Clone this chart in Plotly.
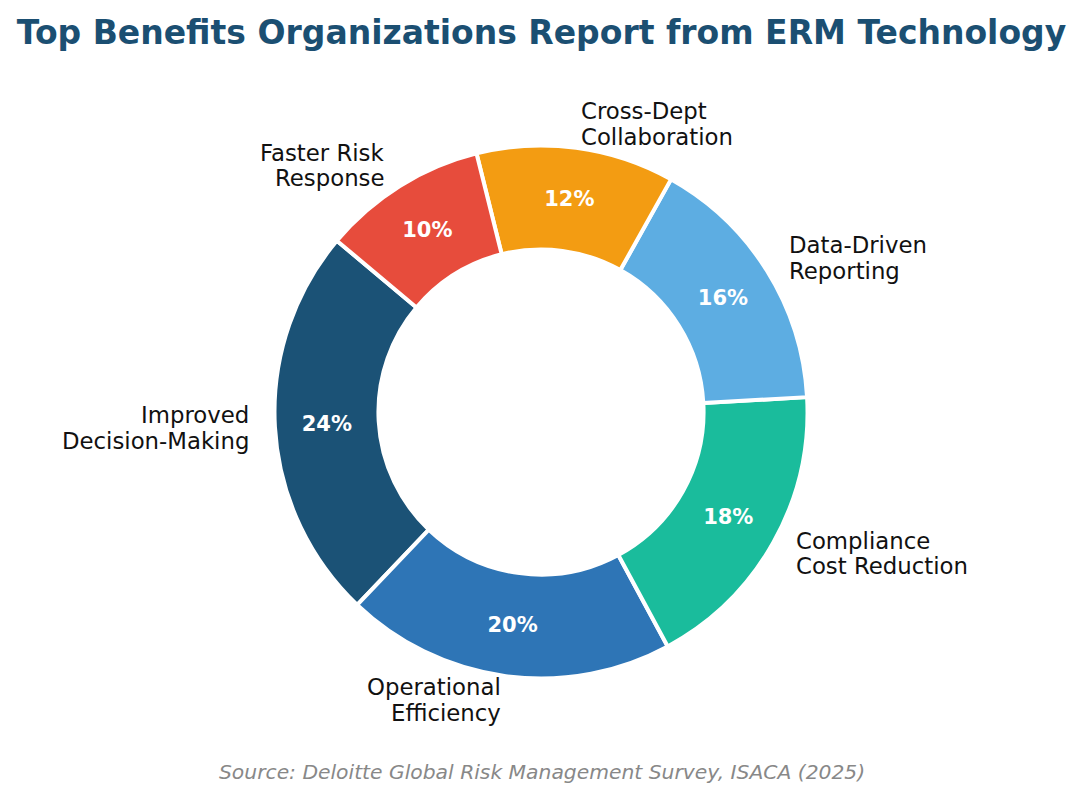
import math
import plotly.graph_objects as go

# ---- data ----
categories = ["Improved<br>Decision-Making", "Operational<br>Efficiency",
              "Compliance<br>Cost Reduction", "Data-Driven<br>Reporting",
              "Cross-Dept<br>Collaboration", "Faster Risk<br>Response"]
values = [24, 20, 18, 16, 12, 10]
colors = ["#1B5276", "#2E75B6", "#1ABC9C", "#5DADE2", "#F39C12", "#E74C3C"]
title_text = "Top Benefits Organizations Report from ERM Technology"
source_text = "Source: Deloitte Global Risk Management Survey, ISACA (2025)"

# ---- layout geometry (pixels) ----
W, H = 1083, 800
cx, cy, R = 541, 412, 264
R_DOMAIN = 266.5
start_angle = 140  # degrees, math convention, counterclockwise
LINE_H = 25.5
FONT = "DejaVu Sans"

total = sum(values)
# plotly (counterclockwise) places the first slice clockwise of `rotation`
rotation = 90 - start_angle - 360 * values[0] / total

fig = go.Figure(go.Pie(
    labels=[c.replace("<br>", " ") for c in categories],
    values=values,
    sort=False,
    direction="counterclockwise",
    rotation=rotation,
    hole=0.61,
    marker=dict(colors=colors, line=dict(color="white", width=4)),
    texttemplate="%{percent:.0%}",
    textposition="inside",
    insidetextorientation="horizontal",
    textfont=dict(family=FONT, size=21, color="white", weight="bold"),
    domain=dict(x=[(cx - R_DOMAIN) / W, (cx + R_DOMAIN) / W],
                y=[1 - (cy + R_DOMAIN) / H, 1 - (cy - R_DOMAIN) / H]),
    showlegend=False,
    hoverinfo="label+percent",
))

annotations = []
cum = 0
for lab, v in zip(categories, values):
    mid = math.radians(start_angle + 360 * (cum + v / 2) / total)
    cum += v
    px = cx + 1.1 * R * math.cos(mid)
    py = cy - 1.1 * R * math.sin(mid)
    right = math.cos(mid) < 0
    lines = lab.split("<br>")
    n = len(lines)
    for i, line in enumerate(lines):
        ly = py + (i - (n - 1) / 2) * LINE_H
        annotations.append(dict(
            x=px / W, y=1 - ly / H, xref="paper", yref="paper",
            text=line, showarrow=False,
            xanchor="right" if right else "left", yanchor="middle",
            font=dict(family=FONT, size=22.8, color="#111111"),
        ))

annotations.append(dict(
    x=0.5, y=1 - 772 / H, xref="paper", yref="paper", text=source_text,
    showarrow=False, xanchor="center", yanchor="middle",
    font=dict(family=FONT, size=20.3, color="#888888", style="italic"),
))

fig.update_layout(
    width=W, height=H,
    margin=dict(l=0, r=0, t=0, b=0),
    paper_bgcolor="white", plot_bgcolor="white",
    title=dict(text="<b>" + title_text + "</b>", x=0.5, xanchor="center",
               y=1 - 32 / H, yanchor="middle", yref="container",
               font=dict(family=FONT, size=33, color="#1B4F72")),
    annotations=annotations,
)

fig.write_html("out.html")
